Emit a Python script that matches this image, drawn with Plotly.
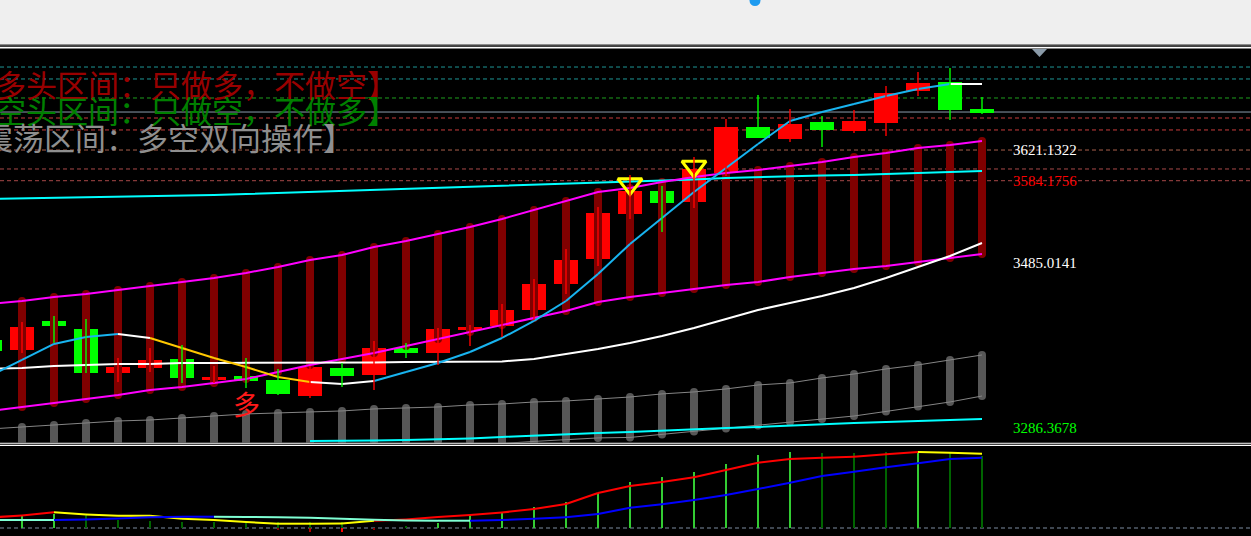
import plotly.graph_objects as go

W, H = 1251, 536

# ---------------- data ----------------
candle_idx = list(range(-1, 31))

opens = [3392.4, 3381.5, 3415.3, 3406.8, 3353.8, 3358.7, 3369.5, 3344.2, 3349.0, 3344.2,
         3326.1, 3358.7, 3350.2, 3383.9, 3376.7, 3404.4, 3410.4, 3428.5, 3459.8, 3489.9,
         3544.1, 3571.8, 3558.6, 3593.5, 3648.9, 3635.6, 3654.9, 3644.1, 3653.7, 3693.4,
         3703.1, 3671.7]
highs = [3396.0, 3414.1, 3421.3, 3417.7, 3370.7, 3382.7, 3386.4, 3361.1, 3370.7, 3357.5,
         3361.1, 3364.7, 3391.2, 3388.8, 3406.8, 3410.4, 3435.7, 3465.8, 3502.0, 3552.5,
         3591.1, 3577.8, 3612.7, 3658.5, 3687.4, 3670.5, 3662.1, 3669.3, 3698.2, 3715.1,
         3719.9, 3685.0]
lows = [3376.7, 3376.7, 3388.8, 3352.6, 3341.8, 3353.8, 3340.6, 3340.6, 3334.6, 3326.1,
        3322.5, 3335.8, 3332.2, 3370.7, 3362.3, 3385.2, 3396.0, 3416.5, 3447.8, 3481.5,
        3538.1, 3522.4, 3551.3, 3589.9, 3635.6, 3630.8, 3624.8, 3641.6, 3638.0, 3686.2,
        3657.3, 3664.5]
closes = [3380.3, 3409.2, 3410.4, 3353.8, 3359.9, 3368.3, 3346.6, 3347.8, 3343.0, 3327.4,
          3359.9, 3349.0, 3383.9, 3376.7, 3405.6, 3409.2, 3428.5, 3459.8, 3488.7, 3545.3,
          3571.8, 3557.4, 3598.3, 3648.9, 3636.8, 3652.5, 3645.3, 3656.1, 3691.0, 3701.9,
          3670.5, 3666.9]

ma_short = [3349.0, 3368.3, 3387.6, 3396.0, 3399.6, 3394.8, 3382.7, 3370.7, 3359.9, 3347.8,
            3341.8, 3339.4, 3343.0, 3353.8, 3364.7, 3377.9, 3394.8, 3415.3, 3439.3, 3471.9,
            3508.0, 3539.3, 3570.6, 3599.5, 3628.4, 3656.1, 3666.9, 3676.6, 3686.2, 3694.6,
            3700.6, 3700.6]
ma_long = [3357.5, 3358.7, 3361.1, 3362.3, 3363.5, 3363.5, 3364.7, 3364.7, 3364.7, 3364.7,
           3364.7, 3364.7, 3365.3, 3365.9, 3365.9, 3365.9, 3366.5, 3369.5, 3375.5, 3381.5,
           3388.8, 3397.2, 3406.8, 3417.7, 3428.5, 3436.9, 3445.4, 3455.0, 3467.0, 3480.3,
           3493.5, 3509.2]
band_upper = [3435.7, 3439.3, 3444.2, 3447.8, 3452.6, 3457.4, 3462.2, 3467.0, 3473.1, 3480.3,
              3488.7, 3494.7, 3504.4, 3511.6, 3520.0, 3528.5, 3538.1, 3548.9, 3559.8, 3570.6,
              3575.4, 3582.6, 3588.7, 3593.5, 3597.1, 3601.9, 3606.7, 3612.7, 3617.6, 3623.6,
              3627.2, 3632.0]
band_lower = [3306.9, 3311.7, 3316.5, 3321.3, 3326.1, 3332.2, 3335.8, 3340.6, 3345.4, 3353.8,
              3362.3, 3369.5, 3376.7, 3385.2, 3393.6, 3402.0, 3410.4, 3418.9, 3427.3, 3438.1,
              3444.2, 3449.0, 3453.8, 3458.6, 3462.2, 3468.2, 3473.1, 3477.9, 3481.5, 3486.3,
              3491.1, 3495.9]
cyan_upper = [3562.2, 3562.8, 3563.4, 3564.0, 3564.6, 3565.2, 3565.8, 3567.0, 3568.2, 3569.4,
              3570.6, 3571.8, 3573.0, 3574.2, 3575.4, 3576.6, 3577.8, 3579.0, 3580.2, 3581.4,
              3582.6, 3583.8, 3585.6, 3587.5, 3588.7, 3589.9, 3590.5, 3591.1, 3592.3, 3593.5,
              3594.7, 3595.9]
cyan_lower = [None] * 10 + [3270.8, 3270.8, 3271.4, 3271.9, 3272.6, 3273.8, 3275.6, 3277.4,
                            3279.2, 3280.4, 3281.6, 3283.4, 3285.2, 3286.4, 3287.6, 3289.4,
                            3290.6, 3292.4, 3293.6, 3294.8, 3296.0, 3297.2]
gray_upper = [3285.2, 3287.6, 3290.0, 3292.4, 3294.8, 3296.0, 3298.4, 3300.8, 3303.3, 3304.5,
              3305.7, 3306.9, 3309.3, 3310.5, 3311.7, 3314.1, 3315.3, 3317.7, 3318.9, 3321.3,
              3323.7, 3327.4, 3329.8, 3333.4, 3338.2, 3340.6, 3346.6, 3351.4, 3357.5, 3362.3,
              3368.3, 3374.3]
gray_lower = [3257.5, 3258.1, 3258.7, 3259.3, 3259.9, 3260.5, 3261.1, 3261.7, 3262.3, 3262.9,
              3263.5, 3264.1, 3264.7, 3265.3, 3265.9, 3266.5, 3267.7, 3270.2, 3272.0, 3274.4,
              3275.0, 3278.6, 3282.2, 3285.8, 3289.4, 3293.6, 3297.2, 3300.8, 3306.3, 3312.3,
              3317.7, 3324.9]

# signal marks (yellow) above candles 19 and 21
signal_idx = [19, 21]
signal_price = [3580.2, 3601.3]
# "多" mark
mark_idx = 7
mark_price = 3315.3
mark_text = "多"

# horizontal reference levels
level_prices = [3721.1, 3706.7, 3683.8, 3666.9, 3659.7, 3645.3, 3621.1322, 3598.3, 3584.1756]
price_labels = [3621.1322, 3584.1756, 3485.0141, 3286.3678]

# lower indicator panel
osc_fast = [10.5, 12.5, 15.7, 13.5, 12.3, 12.2, 9.3, 8, 6, 4.3, 4.3, 4.5, 7.3, 8.5, 11, 13,
            15.5, 19, 24, 35, 42, 46, 50.7, 58, 65.3, 69, 70.3, 71.3, 73.7, 76, 75.3, 74.3]
osc_slow = [8, 8, 8, 8.5, 9.5, 10.8, 11.3, 11.3, 11, 10.7, 10.3, 9.3, 8.3, 7.5, 7.3, 7.3,
            8, 9.3, 10.7, 14, 20.3, 23.7, 28, 33, 39, 45.3, 52, 56.3, 60.7, 64.7, 69, 70.3]
osc_hist = [11, 12, 14, 13, 8, 7, 6, 6, 6, 6, 6, 6, 0, 2, 5, 13, 16, 21, 26, 35, 46, 51,
            56, 64, 73, 76, 75, 75, 76, 77, 76, 72]
osc_neg_idx = [8, 9, 10, 11]
osc_neg = [-2, -4, -4, -2]

legend_lines = ["【多头区间：只做多，不做空】", "【空头区间：只做空，不做多】", "【震荡区间：多空双向操作】"]

# ---------------- styles ----------------
RED, GREEN = "#ff0000", "#00ff00"
BLUE_MA, YEL_MA, WHITE = "#18b4f0", "#ffc800", "#ffffff"
short_colors = [BLUE_MA] * 4 + [WHITE] + [YEL_MA] * 5 + [WHITE] * 2 + [BLUE_MA] * 18 + [WHITE]
fast_colors = ["#ff0000"] * 2 + ["#ffff00"] * 10 + ["#ff0000"] * 17 + ["#ffff00"] * 2
slow_colors = ["#7fffd4"] * 2 + ["#0000ff"] * 5 + ["#7fffd4"] * 8 + ["#0000ff"] * 16
LIGHT_G, DARK_G = "#33cc33", "#006400"
hist_colors = ([LIGHT_G] * 3 + [DARK_G] * 11 + [LIGHT_G] * 12 + [DARK_G] * 3
               + [LIGHT_G] + [DARK_G] * 2)
neg_colors = ["#8b0000", "#b00000", "#ff0000", "#8b0000"]
level_colors = ["#1e9696", "#1e9696", "#1e9e1e", "#8c9cac", "#c83c3c", "#c83c3c",
                "#a8604c", "#a84848", "#a84848"]
level_dash = ["4px,3px"] * 3 + ["solid"] + ["4px,3px"] * 5
label_colors = ["#ffffff", "#ff0000", "#ffffff", "#00ff00"]
legend_colors = ["#990000", "#008000", "#8f8f8f"]

fig = go.Figure()


def seg_lines(xs, ys, colors, width, xa="x", ya="y"):
    groups = {}
    for i in range(len(xs) - 1):
        gx, gy = groups.setdefault(colors[i], ([], []))
        gx.extend([xs[i], xs[i + 1], None])
        gy.extend([ys[i], ys[i + 1], None])
    for c, (gx, gy) in groups.items():
        fig.add_trace(go.Scatter(x=gx, y=gy, mode="lines", xaxis=xa, yaxis=ya,
                                 line=dict(color=c, width=width), hoverinfo="skip"))


def vbars(xs, lo, hi, color, width):
    vx, vy = [], []
    for x, a, b in zip(xs, lo, hi):
        vx += [x, x, None]
        vy += [a, b, None]
    fig.add_trace(go.Scatter(x=vx, y=vy, mode="lines+markers",
                             line=dict(color=color, width=width),
                             marker=dict(color=color, size=width, symbol="circle"),
                             hoverinfo="skip"))


def line(ys, color, width):
    fig.add_trace(go.Scatter(x=candle_idx, y=ys, mode="lines",
                             line=dict(color=color, width=width), hoverinfo="skip"))


# channel bars & grey bars
vbars(candle_idx, band_lower, band_upper, "#800000", 8)
vbars(candle_idx, gray_lower, gray_upper, "#575757", 8)
line(gray_upper, "#858585", 1)
line(gray_lower, "#858585", 1)
line(cyan_lower, "#00ffff", 2)
line(cyan_upper, "#00ffff", 2)
line(band_upper, "#ff00ff", 2)
line(band_lower, "#ff00ff", 2)
line(ma_long, WHITE, 2)
seg_lines(candle_idx, ma_short, short_colors, 2)

# yellow signal marks
fig.add_trace(go.Scatter(x=signal_idx, y=signal_price, mode="markers",
                         marker=dict(symbol="triangle-down-open", size=21, color="#ffff00",
                                     line=dict(width=3, color="#ffff00")),
                         hoverinfo="skip"))

# candles: wicks + bodies
for up in (True, False):
    wx, wy = [], []
    bx, bb, bh = [], [], []
    for k, o, h, l, c in zip(candle_idx, opens, highs, lows, closes):
        if (c > o) != up:
            continue
        wx += [k, k, None]
        wy += [l, h, None]
        bx.append(k)
        bb.append(min(o, c))
        bh.append(max(abs(c - o), 1.2))
    col = RED if up else GREEN
    fig.add_trace(go.Scatter(x=wx, y=wy, mode="lines", line=dict(color=col, width=1.4),
                             hoverinfo="skip"))
    fig.add_trace(go.Bar(x=bx, y=bh, base=bb, width=0.78, marker=dict(color=col, line=dict(width=0)),
                         hoverinfo="skip"))

# ---------------- lower panel ----------------
seg_lines(candle_idx, osc_fast, fast_colors, 2, "x2", "y2")
seg_lines(candle_idx, osc_slow, slow_colors, 2, "x2", "y2")
fig.add_trace(go.Bar(x=candle_idx, y=osc_hist, width=0.065, xaxis="x2", yaxis="y2",
                     marker=dict(color=hist_colors, line=dict(width=0)), hoverinfo="skip"))
fig.add_trace(go.Bar(x=osc_neg_idx, y=osc_neg, width=0.065, xaxis="x2", yaxis="y2",
                     marker=dict(color=neg_colors, line=dict(width=0)), hoverinfo="skip"))


# ---------------- layout ----------------
def py(px):
    return 1 - px / H


def pxx(px):
    return px / W


shapes = []
for p, c, d in zip(level_prices, level_colors, level_dash):
    shapes.append(dict(type="line", xref="paper", yref="y", x0=0, x1=1, y0=p, y1=p,
                       line=dict(color=c, width=1, dash=d), layer="below"))
shapes.append(dict(type="line", xref="paper", yref="y2", x0=0, x1=1, y0=0, y1=0,
                   line=dict(color="#7d8ca0", width=1, dash="4px,3px"), layer="below"))
shapes += [
    dict(type="rect", xref="paper", yref="paper", x0=0, x1=1, y0=py(44), y1=1,
         fillcolor="#efefef", line=dict(width=0), layer="above"),
    dict(type="rect", xref="paper", yref="paper", x0=0, x1=1, y0=py(45.4), y1=py(44),
         fillcolor="#8c8c8c", line=dict(width=0), layer="above"),
    dict(type="rect", xref="paper", yref="paper", x0=0, x1=1, y0=py(48.5), y1=py(46.7),
         fillcolor="#ffffff", line=dict(width=0), layer="above"),
    dict(type="rect", xref="paper", yref="paper", x0=0, x1=1, y0=py(443.8), y1=py(442.7),
         fillcolor="#ffffff", line=dict(width=0), layer="above"),
    dict(type="rect", xref="paper", yref="paper", x0=0, x1=1, y0=py(445.9), y1=py(444.8),
         fillcolor="#ffffff", line=dict(width=0), layer="above"),
    dict(type="circle", xref="paper", yref="paper", x0=pxx(749.5), x1=pxx(760.5),
         y0=py(6), y1=py(-5), fillcolor="#1e9bf0", line=dict(width=0), layer="above"),
    dict(type="path", xref="paper", yref="paper",
         path=f"M {pxx(1032)},{py(49)} L {pxx(1047)},{py(49)} L {pxx(1039.5)},{py(57)} Z",
         fillcolor="#8a9aa8", line=dict(width=0), layer="above"),
]

annotations = []
for p, c in zip(price_labels, label_colors):
    annotations.append(dict(xref="paper", yref="y", x=pxx(1011), y=p, text=f"{p:.4f}",
                            showarrow=False, xanchor="left", yanchor="middle",
                            font=dict(family="Liberation Serif", size=15, color=c)))
legend_x = [-38, -38, -51]
legend_y = [83.5, 110, 136.5]
for t, c, lx, ly in zip(legend_lines, legend_colors, legend_x, legend_y):
    annotations.append(dict(xref="paper", yref="paper", x=pxx(lx), y=py(ly), text=t,
                            showarrow=False, xanchor="left", yanchor="middle",
                            font=dict(family="Noto Sans CJK SC", size=31, color=c)))
annotations.append(dict(xref="x", yref="y", x=mark_idx, y=mark_price, text=mark_text,
                        showarrow=False, xanchor="center", yanchor="middle",
                        font=dict(family="Noto Sans CJK SC", size=27, color="#ff1a1a")))

xr = [-0.6875, 38.40625]
fig.update_layout(
    width=W, height=H, margin=dict(l=0, r=0, t=0, b=0, pad=0),
    paper_bgcolor="#000000", plot_bgcolor="#000000", showlegend=False,
    barmode="overlay", bargap=0,
    xaxis=dict(domain=[0, 1], range=xr, visible=False, anchor="y"),
    yaxis=dict(domain=[py(442.5), py(48.5)], range=[3268.9, 3743.4], visible=False, anchor="x"),
    xaxis2=dict(domain=[0, 1], range=xr, visible=False, anchor="y2"),
    yaxis2=dict(domain=[0, py(447)], range=[-8, 81], visible=False, anchor="x2"),
    shapes=shapes, annotations=annotations,
)

fig.write_html("out.html", config={"displayModeBar": False},
               post_script="document.body.style.margin='0';document.body.style.overflow='hidden';")
